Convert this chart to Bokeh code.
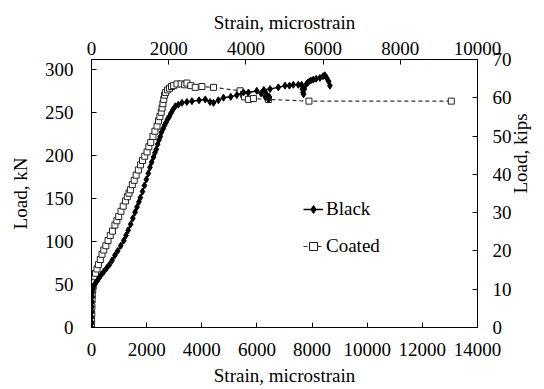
import math
from bokeh.plotting import figure
from bokeh.models import Range1d, LinearAxis, FixedTicker, Legend, LegendItem
from bokeh.embed import file_html
from bokeh.resources import INLINE

# Black bar: strain (microstrain), load (kN)
black_strain = [0, 5, 8, 12, 15, 20, 25, 35, 50, 80, 130, 200, 264, 350, 450, 550, 650, 749, 850, 950,
                1060, 1169, 1250, 1330, 1420, 1500, 1580, 1650, 1720, 1773, 1850, 1920, 1990, 2060, 2120,
                2180, 2250, 2300, 2352, 2400, 2450, 2496, 2540, 2600, 2650, 2700, 2760, 2820, 2880, 2950,
                3039, 3150, 3281, 3460, 3643, 3900, 4125, 4300, 4425, 4600, 4787, 5050, 5270, 5511, 5692,
                5995, 6150, 6300, 6420, 6450, 6330, 6250, 6477, 6777, 7019, 7180, 7320, 7500, 7620, 7650,
                7670, 7690, 7720, 7800, 7863, 7950, 8044, 8150, 8285, 8400, 8466, 8530, 8600, 8647]
black_load = [0, 6, 12, 18, 24, 30, 36, 41, 45, 48, 51, 54, 57, 61, 65, 69, 73, 78, 84, 89,
              95, 101, 107, 113, 120, 127, 134, 140, 146, 151, 158, 165, 172, 179, 186,
              192, 198, 203, 207, 213, 218, 222, 227, 231, 235, 238, 242, 245, 249, 253,
              257, 259, 261, 262, 263, 264, 265, 262, 261, 264, 267, 268, 270, 273, 273,
              275, 272, 268, 265, 268, 272, 276, 277, 279, 281, 281, 282, 282, 282, 277,
              273, 271, 277, 283, 285, 287, 288, 289, 290, 292, 293, 290, 286, 281]

# Coated bar
coated_strain = [0, 5, 10, 15, 22, 30, 45, 60, 90, 120, 145, 200, 250, 320, 380, 445, 520, 600, 680, 760,
                 850, 920, 988, 1070, 1150, 1230, 1300, 1360, 1411, 1480, 1550, 1620, 1700, 1780, 1850,
                 1930, 2015, 2080, 2150, 2230, 2300, 2377, 2430, 2480, 2530, 2560, 2590, 2620, 2650, 2690,
                 2760, 2830, 2900, 2980, 3100, 3250, 3380, 3462, 3600, 3763, 4004, 4425, 5391, 5511, 5550,
                 5692, 5873, 6416, 7887, 13050]
coated_load = [0, 8, 16, 24, 32, 38, 44, 48, 54, 59, 63, 68, 73, 79, 85, 90, 95, 101, 107, 112,
               119, 124, 129, 135, 141, 147, 152, 156, 160, 166, 171, 177, 183, 189, 194,
               199, 204, 210, 215, 222, 228, 234, 240, 245, 250, 255, 260, 265, 270, 273,
               276, 278, 280, 281, 283, 283, 282, 284, 281, 279, 280, 279, 275, 271, 268,
               265, 266, 265, 263, 263]

bottom_ticks = [0, 2000, 4000, 6000, 8000, 10000, 12000, 14000]
top_ticks = [0, 2000, 4000, 6000, 8000, 10000]
kn_ticks = [0, 50, 100, 150, 200, 250, 300]
kip_ticks = [0, 10, 20, 30, 40, 50, 60, 70]

FONT = "Liberation Serif"
FS = "19px"

p = figure(width=544, height=389, x_range=Range1d(0, 14000), y_range=Range1d(0, 70 * 4.44822),
           output_backend="svg", toolbar_location=None,
           min_border_left=91, min_border_right=66, min_border_top=59, min_border_bottom=62)
p.extra_x_ranges = {"top": Range1d(0, 10000)}
p.extra_y_ranges = {"kips": Range1d(0, 70)}

p.xgrid.visible = False
p.ygrid.visible = False
p.outline_line_color = "black"
p.outline_line_width = 1
p.background_fill_color = "white"
p.border_fill_color = "white"

bottom_axis = p.below[0]
left_axis = p.left[0]
top_axis = LinearAxis(x_range_name="top", axis_label="Strain, microstrain")
right_axis = LinearAxis(y_range_name="kips", axis_label="Load, kips")
p.add_layout(top_axis, "above")
p.add_layout(right_axis, "right")

bottom_axis.ticker = FixedTicker(ticks=bottom_ticks)
bottom_axis.axis_label = "Strain, microstrain"
left_axis.ticker = FixedTicker(ticks=kn_ticks)
left_axis.axis_label = "Load, kN"
top_axis.ticker = FixedTicker(ticks=top_ticks)
right_axis.ticker = FixedTicker(ticks=kip_ticks)
right_axis.axis_label_orientation = math.pi / 2

for ax in [bottom_axis, left_axis, top_axis, right_axis]:
    ax.axis_line_color = "black"
    ax.axis_line_width = 1
    ax.major_tick_line_color = "black"
    ax.major_tick_in = 5
    ax.major_tick_out = 0
    ax.minor_tick_line_color = None
    ax.major_label_text_font = FONT
    ax.major_label_text_font_size = FS
    ax.major_label_text_color = "black"
    ax.axis_label_text_font = FONT
    ax.axis_label_text_font_size = FS
    ax.axis_label_text_font_style = "normal"
    ax.axis_label_text_color = "black"

left_axis.major_label_standoff = 18
left_axis.axis_label_standoff = 11
right_axis.major_label_standoff = 15
right_axis.axis_label_standoff = 6
top_axis.major_label_standoff = 5
top_axis.axis_label_standoff = 6
bottom_axis.major_label_standoff = 15
bottom_axis.axis_label_standoff = 6

cl = p.line(coated_strain, coated_load, line_color="#333333", line_width=1.2, line_dash="4 3")
cm = p.scatter(coated_strain, coated_load, marker="square", size=6, fill_color="white",
               line_color="#222222", line_width=1)
bl = p.line(black_strain, black_load, line_color="black", line_width=1.5)
bm = p.scatter(black_strain, black_load, marker="diamond", size=7, fill_color="black",
               line_color="black")

legend = Legend(items=[LegendItem(label="Black", renderers=[bl, bm]),
                       LegendItem(label="Coated", renderers=[cl, cm])],
                location=(212, 70))
legend.glyph_width = 20
legend.glyph_height = 20
legend.label_standoff = 3
legend.spacing = 15
legend.padding = 0
legend.margin = 0
legend.border_line_color = None
legend.background_fill_alpha = 0
legend.label_text_font = FONT
legend.label_text_font_size = FS
legend.label_text_color = "black"
p.add_layout(legend)

open("out.html", "w").write(file_html(p, INLINE))
